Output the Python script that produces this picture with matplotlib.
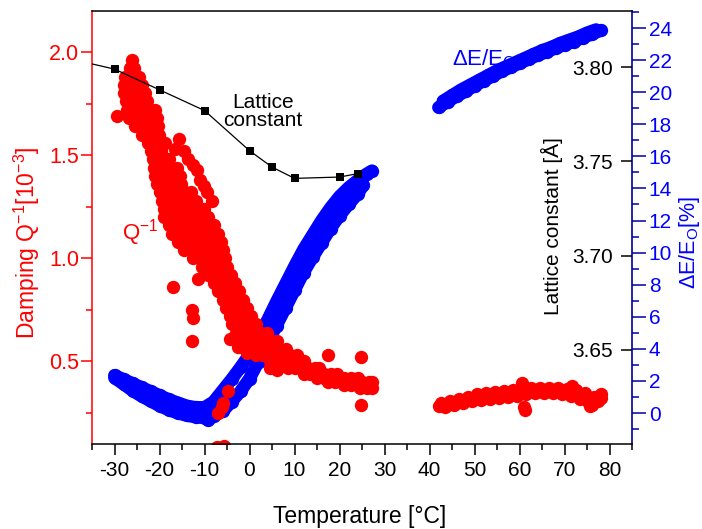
import matplotlib
matplotlib.use('Agg')
import matplotlib.pyplot as plt
from matplotlib.ticker import MultipleLocator, FixedLocator, FormatStrFormatter

plt.rcParams['font.family'] = ['Liberation Sans', 'DejaVu Sans']
plt.rcParams['mathtext.fontset'] = 'custom'
plt.rcParams['mathtext.rm'] = 'Liberation Sans'
plt.rcParams['mathtext.it'] = 'Liberation Sans:italic'
plt.rcParams['mathtext.bf'] = 'Liberation Sans:bold'
plt.rcParams['axes.unicode_minus'] = False

# ---------------- data ----------------
# Damping Q^-1 [1e-3], low-temperature run (dense cloud)
damp_low_T = [
    -26.2, -26.6, -25.6,
    -27.6, -26.5, -25.4, -24.6,
    -28.0, -26.9, -25.8, -24.7, -23.8,
    -27.8, -26.6, -25.4, -24.2, -23.2,
    -27.5, -26.3, -25.1, -23.9, -22.7,
    -27.2, -26.0, -24.7, -23.4, -22.1, -21.0,
    -26.8, -25.5, -24.2, -22.9, -21.6, -20.5,
    -25.4, -24.1, -22.8, -21.5, -20.4,
    -23.8, -22.6, -21.4, -20.2,
    -22.5, -21.2, -20.0, -18.8,
    -21.9, -20.8, -19.7,
    -21.5, -20.3, -19.1, -18.0,
    -21.2, -19.9, -18.6, -17.3, -16.2,
    -21.0, -19.6, -18.2, -16.8, -15.5,
    -20.6, -19.2, -17.8, -16.4, -15.2,
    -20.0, -18.6, -17.2, -15.8, -14.4, -13.0,
    -19.5, -18.0, -16.5, -15.0, -13.5, -12.0,
    -19.0, -17.5, -16.0, -14.5, -13.0, -11.5, -10.2,
    -18.9, -17.3, -15.7, -14.1, -12.5, -10.9, -9.3,
    -18.0, -16.5, -15.0, -13.5, -12.0, -10.5, -9.0, -8.0,
    -17.2, -15.7, -14.2, -12.7, -11.2, -9.7, -8.2, -7.0,
    -15.9, -14.5, -13.1, -11.7, -10.3, -8.9, -7.5, -6.4,
    -14.5, -13.0, -11.5, -10.0, -8.5, -7.0, -5.8,
    -12.5, -11.0, -9.6, -8.2, -6.8, -5.4,
    -10.5, -9.1, -7.7, -6.3, -5.0,
    -9.3, -8.0, -6.7, -5.4, -4.2,
    -8.0, -6.8, -5.6, -4.4, -3.3,
    -7.0, -5.8, -4.6, -3.4, -2.3,
    -6.0, -4.8, -3.6, -2.4, -1.4,
    -5.2, -4.0, -2.8, -1.6, -0.6,
    -4.4, -3.2, -2.0, -0.8, 0.4,
    -3.8, -2.5, -1.2, 0.1, 1.4,
    -3.0, -1.6, -0.2, 1.2, 2.6, 3.8,
    -2.0, -0.6, 0.8, 2.2, 3.6, 5.0, 6.0,
    -1.0, 0.5, 2.0, 3.5, 5.0, 6.5, 8.0,
    1.5, 3.0, 4.5, 6.0, 7.5, 9.0, 10.5,
    4.5, 6.0, 7.5, 9.0, 10.5, 12.0,
    8.5, 10.0, 11.5, 13.0, 14.5, 15.5,
    12.0, 13.5, 15.0, 16.5, 18.0, 19.5,
    15.0, 16.5, 18.0, 19.5, 21.0, 22.5, 24.0,
    17.5, 19.0, 20.5, 22.0, 23.5, 25.0, 26.5, 27.3,
    21.0, 22.5, 24.0, 25.5, 27.0,
    24.5, 26.0, 27.2,
]
damp_low_Q = (
    [1.96] + [1.92] * 2 + [1.88] * 4 + [1.84] * 5 + [1.80] * 5 + [1.76] * 5
    + [1.72] * 6 + [1.68] * 6 + [1.64] * 5 + [1.60] * 4 + [1.56] * 4
    + [1.52] * 3 + [1.48] * 4 + [1.44] * 5 + [1.40] * 5 + [1.36] * 5
    + [1.32] * 6 + [1.28] * 6 + [1.24] * 7 + [1.20] * 7 + [1.16] * 8
    + [1.12] * 8 + [1.08] * 8 + [1.04] * 7 + [1.00] * 6 + [0.96] * 5
    + [0.92] * 5 + [0.88] * 5 + [0.84] * 5 + [0.80] * 5 + [0.76] * 5
    + [0.72] * 5 + [0.68] * 5 + [0.64] * 6 + [0.60] * 7 + [0.56] * 7
    + [0.53] * 7 + [0.50] * 6 + [0.47] * 6 + [0.44] * 6 + [0.42] * 7
    + [0.40] * 8 + [0.385] * 5 + [0.37] * 3
)
# second lobe and scattered points of the low-temperature run
damp_out_T = [-16.6, -15.7, -14.6, -13.6, -12.6, -11.7, -11.0, -10.2, -9.5, -8.4,
              -29.5, -16.9, -11.4, -12.8, -12.5, -12.8, -4.3, -2.5, -0.6, 4.6,
              6.0, 17.5, 24.7, 24.7, -4.7, -5.9, -6.2, -7.1, -7.2, -5.6]
damp_out_Q = [1.53, 1.58, 1.52, 1.48, 1.45, 1.43, 1.38, 1.35, 1.32, 1.28,
              1.69, 0.86, 0.90, 0.75, 0.71, 0.60, 0.61, 0.57, 0.54, 0.47,
              0.46, 0.53, 0.52, 0.29, 0.355, 0.30, 0.28, 0.25, 0.085, 0.09]
# high-temperature run
damp_high_T = [42, 43, 44, 45, 46, 47, 48, 49, 50, 51, 52, 53, 54, 55, 56, 57, 58, 59,
               60, 61, 62, 63, 64, 65, 66, 67, 68, 69, 70, 71, 72, 73, 74, 75, 76, 77, 78,
               42.5, 44.5, 46.5, 48.5, 50.5, 52.5, 54.5, 56.5, 58.5, 60.5, 62.5, 64.5,
               66.5, 68.5, 70.5, 72.5, 74.5, 76.5, 78.0,
               43.5, 45.5, 47.5, 49.5, 51.5, 53.5, 55.5, 57.5, 59.5, 61.5, 63.5, 65.5,
               67.5, 69.5, 71.5, 73.5, 75.5, 77.5,
               60.5, 61.2, 71.6, 75.7, 76.0, 61.0]
damp_high_Q = [0.285, 0.29, 0.295, 0.30, 0.305, 0.31, 0.315, 0.32, 0.325, 0.325, 0.33,
               0.335, 0.335, 0.34, 0.34, 0.345, 0.345, 0.35, 0.35, 0.355, 0.355, 0.355,
               0.36, 0.36, 0.36, 0.36, 0.355, 0.355, 0.35, 0.35, 0.345, 0.34, 0.33,
               0.315, 0.31, 0.32, 0.325,
               0.30, 0.31, 0.32, 0.33, 0.34, 0.345, 0.35, 0.355, 0.36, 0.365, 0.37, 0.37,
               0.37, 0.37, 0.365, 0.36, 0.345, 0.33, 0.34,
               0.28, 0.29, 0.30, 0.31, 0.315, 0.32, 0.325, 0.33, 0.335, 0.34, 0.345,
               0.345, 0.345, 0.34, 0.335, 0.32, 0.30, 0.31,
               0.395, 0.265, 0.38, 0.285, 0.29, 0.28]

# Delta E / E0 [%]
dE_a_T = [-30, -28, -26, -24, -22, -20, -18, -16, -14, -12, -10, -9.2, -8, -6, -4, -2,
          0, 2, 4, 6, 8, 10, 12, 14, 16, 18, 20, 22, 24, 25.3]
dE_a_E = [2.2, 1.8, 1.4, 1.05, 0.75, 0.45, 0.2, 0.0, -0.15, -0.25, -0.3, -0.45, -0.2,
          0.1, 0.7, 1.35, 2.15, 3.2, 4.3, 5.45, 6.55, 7.65, 8.75, 9.7, 10.6, 11.5, 12.3,
          13.0, 13.65, 14.2]
dE_b_T = [-30, -28, -26, -24, -22, -20, -18, -16, -14, -12, -10, -8, -6, -4, -2,
          0, 2, 4, 6, 8, 10, 12, 14, 16, 18, 20, 22, 24, 26, 27.2]
dE_b_E = [2.35, 2.1, 1.85, 1.6, 1.35, 1.1, 0.85, 0.65, 0.45, 0.35, 0.35, 0.7, 1.4, 2.1,
          2.85, 3.65, 4.7, 5.8, 6.95, 8.05, 9.15, 10.2, 11.1, 12.0, 12.8, 13.5, 14.05,
          14.5, 14.9, 15.1]
dE_high_T = [42, 44, 46, 48, 50, 52, 54, 56, 58, 60, 62, 64, 66, 68, 70, 72, 74, 76, 78]
dE_high_E = [19.05, 19.4, 19.75, 20.05, 20.4, 20.7, 21.0, 21.3, 21.55, 21.8, 22.05,
             22.3, 22.5, 22.75, 22.95, 23.15, 23.4, 23.6, 23.85]
dE_high2_T = [43, 45, 47, 49, 51, 53, 55, 57, 59, 61, 63, 65, 67, 69, 71, 73, 75, 77]
dE_high2_E = [19.45, 19.8, 20.15, 20.45, 20.75, 21.05, 21.35, 21.6, 21.85, 22.1, 22.35,
              22.6, 22.8, 23.05, 23.25, 23.45, 23.7, 23.9]

# Lattice constant [A]
lat_T = [-40, -30, -20, -10, 0, 5, 10, 20, 24]
lat_a = [3.8045, 3.799, 3.788, 3.777, 3.7557, 3.747, 3.741, 3.7417, 3.7435]

x_ticks = [-30, -20, -10, 0, 10, 20, 30, 40, 50, 60, 70, 80]
lat_ticks = [3.65, 3.70, 3.75, 3.80]

RED = '#FF0000'
BLUE = '#0000FF'
SPINE_BLUE = '#0000A0'

# ---------------- figure ----------------
fig = plt.figure(figsize=(7.02, 5.29), dpi=100, facecolor='white')
rect = [92 / 702, 1 - 444 / 529, 540 / 702, (444 - 10.7) / 529]
ax = fig.add_axes(rect)
ax3 = ax.twinx()
ax2 = ax.twinx()
ax3.set_zorder(1)
ax.set_zorder(2)
ax2.set_zorder(3)
ax.patch.set_visible(False)
ax2.patch.set_visible(False)
ax3.patch.set_facecolor('white')

ms = 9.6
# blue modulus defect
for tt, ee in [(dE_a_T, dE_a_E), (dE_b_T, dE_b_E), (dE_high_T, dE_high_E), (dE_high2_T, dE_high2_E)]:
    ax3.plot(tt, ee, '-o', color=BLUE, lw=9.2, ms=ms, mew=0,
             solid_capstyle='round', solid_joinstyle='round')

# red damping
ax.plot(damp_low_T, damp_low_Q, 'o', color=RED, ms=ms, mew=0)
ax.plot(damp_out_T, damp_out_Q, 'o', color=RED, ms=ms, mew=0)
ax.plot(damp_high_T, damp_high_Q, 'o', color=RED, ms=ms, mew=0)

# lattice constant
ax2.plot(lat_T, lat_a, '-s', color='black', lw=0.9, ms=6.2, mew=0)

# limits
ax.set_xlim(-35, 85)
ax.set_ylim(0.1, 2.2)
ax2.set_ylim(3.60, 3.83)
ax3.set_ylim(-1.93, 25.08)

# spines
for a in (ax2, ax3):
    for s in a.spines.values():
        s.set_visible(False)
ax3.spines['right'].set_visible(True)
ax3.spines['right'].set_color(SPINE_BLUE)
ax3.spines['right'].set_linewidth(1.2)
ax.spines['right'].set_visible(False)
ax.spines['left'].set_color(RED)
ax.spines['left'].set_linewidth(1.1)
ax.spines['top'].set_linewidth(1.1)
ax.spines['bottom'].set_linewidth(1.1)

# x axis
ax.xaxis.set_major_locator(FixedLocator(x_ticks))
ax.xaxis.set_minor_locator(MultipleLocator(5))
ax.tick_params(axis='x', which='major', direction='out', length=8, width=1.1,
               labelsize=15, pad=4, top=False)
ax.tick_params(axis='x', which='minor', direction='out', length=4, width=1.1, top=False)

# left axis (damping)
ax.yaxis.set_major_locator(MultipleLocator(0.5))
ax.yaxis.set_minor_locator(MultipleLocator(0.25))
ax.yaxis.set_major_formatter(FormatStrFormatter('%.1f'))
ax.tick_params(axis='y', which='major', direction='out', length=8, width=1.1,
               color=RED, labelcolor=RED, labelsize=15.5, pad=1)
ax.tick_params(axis='y', which='minor', direction='out', length=4, width=1.1, color=RED)

# lattice axis (ticks inward, labels inside)
ax2.yaxis.set_major_locator(FixedLocator(lat_ticks))
ax2.yaxis.set_minor_locator(FixedLocator([]))
ax2.yaxis.set_major_formatter(FormatStrFormatter('%.2f'))
ax2.tick_params(axis='y', which='major', direction='in', length=8, width=1.1,
                color='black', labelcolor='black', labelsize=15, pad=-14)
for t in ax2.yaxis.get_major_ticks():
    t.label2.set_horizontalalignment('right')

# delta E axis
ax3.yaxis.set_major_locator(MultipleLocator(2))
ax3.yaxis.set_minor_locator(MultipleLocator(1))
ax3.tick_params(axis='y', which='major', direction='out', length=10, width=1.1,
                color=SPINE_BLUE, labelcolor=BLUE, labelsize=15, pad=2)
ax3.tick_params(axis='y', which='minor', direction='out', length=5, width=1.1,
                color=SPINE_BLUE)

# labels
fig.text(360 / 702, 1 - 516 / 529, 'Temperature [°C]', fontsize=16.5,
         ha='center', va='center')
fig.text(27 / 702, 1 - 243 / 529, 'Damping Q$^{-1}$[10$^{-3}$]', fontsize=16.5,
         color=RED, rotation=90, ha='center', va='center')
fig.text(551.7 / 702, 1 - 226 / 529, 'Lattice constant [Å]', fontsize=15,
         color='black', rotation=90, ha='center', va='center')
fig.text(689 / 702, 1 - 242 / 529, 'ΔE/E$_\\mathrm{O}$[%]', fontsize=15.5,
         color=BLUE, rotation=90, ha='center', va='center')

# in-plot annotations
ax2.text(3.0, 3.7765, 'Lattice\nconstant', fontsize=15, ha='center', va='center',
         linespacing=0.9, color='black')
ax.text(-28.4, 1.09, 'Q$^{-1}$', fontsize=16, color=RED, ha='left', va='baseline')
ax3.text(44.9, 21.65, 'ΔE/E$_\\mathrm{O}$', fontsize=16, color=BLUE,
         ha='left', va='baseline')

fig.savefig('out.png', dpi=100, facecolor='white')
